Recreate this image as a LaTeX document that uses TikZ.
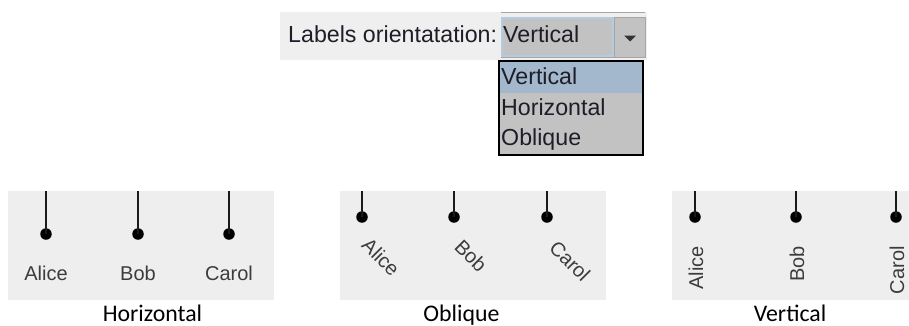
\documentclass[tikz,border=0pt]{standalone}
\usepackage{fontspec}
\setmainfont{Liberation Sans}
\newfontfamily\capfont{Carlito}
\definecolor{panelbg}{HTML}{EEEEEE}
\definecolor{barbg}{HTML}{EFEFEF}
\definecolor{combobg}{HTML}{C2C2C2}
\definecolor{comboedge}{HTML}{A6A6A6}
\definecolor{fieldedge}{HTML}{B4CBE0}
\definecolor{selrow}{HTML}{A3B8CC}
\definecolor{uitext}{HTML}{1E1E28}
\definecolor{stem}{HTML}{1A1A1A}
\definecolor{lbltext}{HTML}{3C3C3C}
\tikzset{
  uilabel/.style={font=\fontsize{23.2}{26}\selectfont, text=uitext, inner sep=0pt, anchor=base west},
  caption/.style={font=\capfont\fontsize{23.8}{26}\selectfont, text=black, inner sep=0pt, anchor=base},
  leaf/.style={font=\fontsize{20}{22}\selectfont, text=lbltext, inner sep=0pt},
  dot/.style={circle, fill=black, inner sep=0pt, minimum size=11.5pt},
  stemline/.style={draw=stem, line width=2pt},
  panel/.style={fill=panelbg, draw=none},
}
\begin{document}
\begin{tikzpicture}[x=1pt,y=-1pt]
\useasboundingbox (0,0) rectangle (909,325);

% ---- combo box bar ----
\fill[barbg] (280,12) rectangle (647,60);
\node[uilabel] (lbl) at (288,42) {Labels orientatation:};
\draw[comboedge, line width=0.8pt] (501,12) -- (645,12);
\filldraw[fill=combobg, draw=comboedge, line width=1pt] (501,17) rectangle (645,57);
\draw[fieldedge, line width=1.2pt] (502,18) rectangle (613,56);
\draw[comboedge, line width=1pt] (614,17) -- (614,57);
\fill[black!80] (624,35.5) -- (636,35.5) -- (630,41.5) -- cycle;
\node[uilabel] (cur) at (503,42) {Vertical};

% ---- drop-down list ----
\fill[combobg] (499,61) rectangle (643,155);
\fill[selrow] (499,61) rectangle (643,93);
\draw[black, line width=1.5pt] (499,61) rectangle (643,155);
\node[uilabel] (optv) at (501,84) {Vertical};
\node[uilabel] (opth) at (501,115.5) {Horizontal};
\node[uilabel] (opto) at (501,145.5) {Oblique};

% ---- panel: horizontal labels ----
\fill[panel] (8,191) rectangle (274,300);
\foreach \n/\x/\t in {a/46/Alice, b/138/Bob, c/229/Carol} {
  \coordinate (h\n top) at (\x,191);
  \node[dot] (h\n) at (\x,234) {};
  \draw[stemline] (h\n top) -- (h\n.center);
  \node[leaf] (h\n lbl) at (\x,273) {\t};
}
\node[caption] (caph) at (152.5,321) {Horizontal};

% ---- panel: oblique labels ----
\fill[panel] (340,191) rectangle (606,300);
\foreach \n/\x/\t/\cx/\cy in {a/362/Alice/381/257, b/454/Bob/471/256, c/547/Carol/570/261} {
  \coordinate (o\n top) at (\x,191);
  \node[dot] (o\n) at (\x,217) {};
  \draw[stemline] (o\n top) -- (o\n.center);
  \node[leaf, rotate=-45] (o\n lbl) at (\cx,\cy) {\t};
}
\node[caption] (capo) at (461.5,321) {Oblique};

% ---- panel: vertical labels ----
\fill[panel] (672,191) rectangle (909,300);
\foreach \n/\x/\t in {a/695/Alice, b/796/Bob, c/896/Carol} {
  \coordinate (v\n top) at (\x,191);
  \node[dot] (v\n) at (\x,217) {};
  \draw[stemline] (v\n top) -- (v\n.center);
  \node[leaf, rotate=90, anchor=east] (v\n lbl) at (\x+1,246) {\t};
}
\node[caption] (capv) at (790,321) {Vertical};
\end{tikzpicture}
\end{document}
